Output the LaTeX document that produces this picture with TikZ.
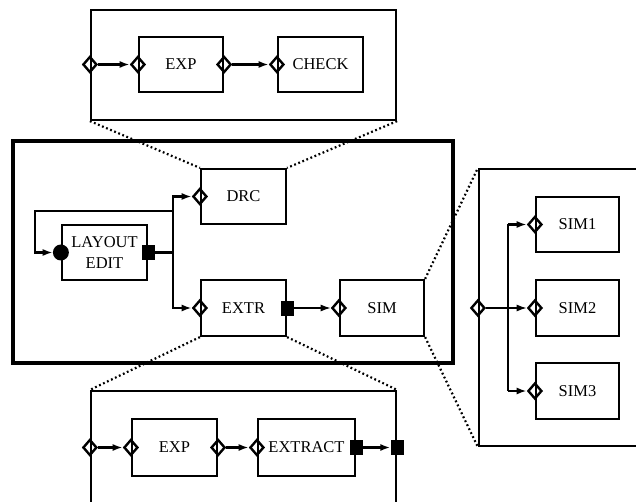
\documentclass[tikz,border=0pt]{standalone}
\usepackage{fontspec}
\setmainfont{Liberation Serif}
\usetikzlibrary{shapes.geometric,arrows.meta}
\tikzset{
 blk/.style={draw, line width=2.2pt, rectangle, inner sep=0pt, align=center, font=\fontsize{16.5}{21}\selectfont},
 pdia/.style={draw, diamond, line width=2.4pt, minimum width=14pt, minimum height=16pt, inner sep=0pt},
 psq/.style={fill=black, rectangle, minimum width=13pt, minimum height=15pt, inner sep=0pt},
 pcirc/.style={fill=black, circle, minimum size=16pt, inner sep=0pt},
 conn/.style={line width=2.2pt},
 thinconn/.style={line width=1.5pt},
 arr/.style={-{Latex[length=10pt,width=7pt]}},
 dotl/.style={line width=2.2pt, dash pattern=on 1.8pt off 2.6pt}
}
\begin{document}
\begin{tikzpicture}[x=1pt,y=-1pt]
\useasboundingbox (0,0) rectangle (636,502);
\clip (0,0) rectangle (636,502);
% outer boxes
\node[blk, minimum width=305pt, minimum height=110pt] (topbox) at (243.5,65) {};
\node[blk, line width=4.8pt, minimum width=440pt, minimum height=222pt] (mainbox) at (233,252) {};
\node[blk, minimum width=240pt, minimum height=277pt] (rightbox) at (599,307.5) {};
\node[blk, minimum width=305pt, minimum height=170pt] (botbox) at (243.5,476) {};
% main blocks
\node[blk, minimum width=85pt, minimum height=55pt] (drc) at (243.5,196.5) {DRC};
\node[blk, minimum width=85pt, minimum height=55pt] (le) at (104.5,252.5) {LAYOUT\\EDIT};
\node[blk, minimum width=85pt, minimum height=56pt] (extr) at (243.5,308) {EXTR};
\node[blk, minimum width=84pt, minimum height=56pt] (sim) at (382,308) {SIM};
% top detail blocks
\node[blk, minimum width=84pt, minimum height=55pt] (texp) at (181,64.5) {EXP};
\node[blk, minimum width=85pt, minimum height=55pt] (check) at (320.5,64.5) {CHECK};
% bottom detail blocks
\node[blk, minimum width=85pt, minimum height=57pt] (bexp) at (174.5,447.5) {EXP};
\node[blk, minimum width=97pt, minimum height=57pt] (extract) at (306.5,447.5) {EXTRACT};
% right detail blocks
\node[blk, minimum width=83pt, minimum height=55pt] (sima) at (577.5,224.5) {SIM1};
\node[blk, minimum width=83pt, minimum height=56pt] (simb) at (577.5,308) {SIM2};
\node[blk, minimum width=83pt, minimum height=56pt] (simc) at (577.5,391) {SIM3};
% ports
\node[pdia] (tin) at (topbox.west |- texp.west) {};
\node[pdia] (texpin) at (texp.west) {};
\node[pdia] (texpout) at (texp.east) {};
\node[pdia] (checkin) at (check.west) {};
\node[pdia] (drcin) at (drc.west) {};
\node[pcirc] (lein) at (le.west) {};
\node[psq] (leout) at (le.east) {};
\node[pdia] (extrin) at (extr.west) {};
\node[psq] (extrout) at (extr.east) {};
\node[pdia] (simin) at (sim.west) {};
\node[pdia] (rin) at (rightbox.west |- simb.west) {};
\node[pdia] (simain) at (sima.west) {};
\node[pdia] (simbin) at (simb.west) {};
\node[pdia] (simcin) at (simc.west) {};
\node[pdia] (bin) at (botbox.west |- bexp.west) {};
\node[pdia] (bexpin) at (bexp.west) {};
\node[pdia] (bexpout) at (bexp.east) {};
\node[pdia] (extractin) at (extract.west) {};
\node[psq] (extractout) at (extract.east) {};
\node[psq] (bout) at (botbox.east |- bexp.east) {};
% junction coordinates
\coordinate (j) at (173,252.5);
\coordinate (jl) at (173,211);
\coordinate (lc) at (35,211);
\coordinate (bus) at (508,308);
% connectors top
\draw[conn,arr] (tin.east) -- (texpin.west);
\draw[conn,arr] (texpout.east) -- (checkin.west);
% connectors main
\draw[conn] (leout.east) -- (j);
\draw[conn,arr] (j) |- (drcin.west);
\draw[conn,arr] (j) |- (extrin.west);
\draw[conn,arr] (jl) -- (lc) |- (lein.west);
\draw[thinconn,arr] (extrout.east) -- (simin.west);
% connectors right
\draw[thinconn,arr] (rin.east) -- (simbin.west);
\draw[conn,arr] (bus |- simain) -- (simain.west);
\draw[conn,arr] (bus |- simcin) -- (simcin.west);
\draw[conn] (bus |- simain) -- (bus |- simcin);
% connectors bottom
\draw[conn,arr] (bin.east) -- (bexpin.west);
\draw[conn,arr] (bexpout.east) -- (extractin.west);
\draw[conn,arr] (extractout.east) -- (bout.west);
% dotted zoom lines
\draw[dotl] (topbox.south west) -- (drc.north west);
\draw[dotl] (topbox.south east) -- (drc.north east);
\draw[dotl] (extr.south west) -- (botbox.north west);
\draw[dotl] (extr.south east) -- (botbox.north east);
\draw[dotl] (sim.north east) -- (rightbox.north west);
\draw[dotl] (sim.south east) -- (rightbox.south west);
\end{tikzpicture}
\end{document}
